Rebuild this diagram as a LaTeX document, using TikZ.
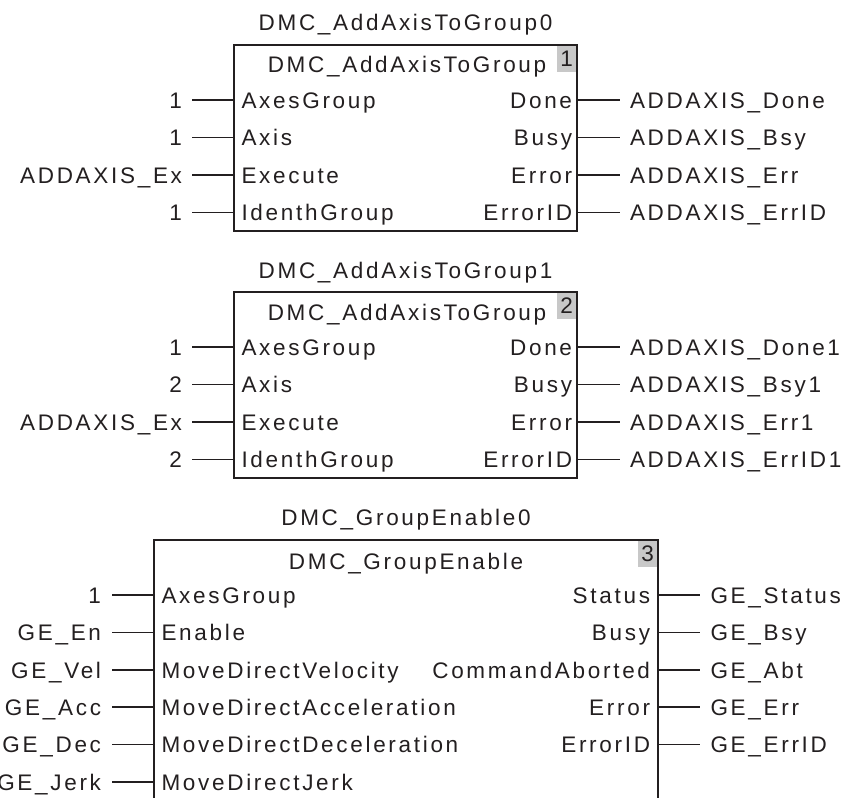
\documentclass[tikz,border=0pt]{standalone}
\usepackage{fontspec}
\setmainfont{Liberation Sans}[LetterSpace=12]
\definecolor{ink}{HTML}{231F20}
\definecolor{badgegray}{HTML}{C8C8C8}
\begin{document}
\begin{tikzpicture}[x=1bp,y=-1bp,
  every node/.style={text=ink, font=\fontsize{22.5bp}{27bp}\selectfont, inner sep=0pt, outer sep=0pt},
  fb/.style={draw=ink, line width=1.5bp, anchor=north west},
  wire/.style={draw=ink, line width=1.5bp},
  badge/.style={fill=badgegray, anchor=north east, minimum width=19bp, minimum height=26bp},
  lbl/.style={anchor=base}]
\clip (0,0) rectangle (854,798);
\fill[white] (0,0) rectangle (854,798);

% ---------- Block 1 ----------
\node[lbl] (t1) at (405.5,31) {DMC\_AddAxisToGroup0};
\node[badge] (k1) at (576.2,45.8) {1};
\node[fb, minimum width=343bp, minimum height=186bp] (B1) at (234,45) {};
\node[lbl] (h1) at (407,73) {DMC\_AddAxisToGroup};
\foreach \i/\yy/\ext/\pin/\opin/\oext in {
  1/100/1/AxesGroup/Done/ADDAXIS\_Done,
  2/137.5/1/Axis/Busy/ADDAXIS\_Bsy,
  3/175/ADDAXIS\_Ex/Execute/Error/ADDAXIS\_Err,
  4/212.5/1/IdenthGroup/ErrorID/ADDAXIS\_ErrID}{
  \node[anchor=base east] (b1x\i) at (182,\yy+8) {\ext};
  \coordinate (b1a\i) at (192,\yy);
  \coordinate (b1b\i) at (234,\yy);
  \draw[wire] (b1a\i) -- (b1b\i);
  \node[anchor=base west] (b1p\i) at (241.5,\yy+8) {\pin};
  \node[anchor=base east] (b1q\i) at (572,\yy+8) {\opin};
  \coordinate (b1c\i) at (577,\yy);
  \coordinate (b1d\i) at (620,\yy);
  \draw[wire] (b1c\i) -- (b1d\i);
  \node[anchor=base west] (b1y\i) at (630,\yy+8) {\oext};
}

% ---------- Block 2 ----------
\node[lbl] (t2) at (405.5,278) {DMC\_AddAxisToGroup1};
\node[badge] (k2) at (576.2,292.8) {2};
\node[fb, minimum width=343bp, minimum height=186bp] (B2) at (234,292) {};
\node[lbl] (h2) at (407,320) {DMC\_AddAxisToGroup};
\foreach \i/\yy/\ext/\pin/\opin/\oext in {
  1/347/1/AxesGroup/Done/ADDAXIS\_Done1,
  2/384.5/2/Axis/Busy/ADDAXIS\_Bsy1,
  3/422/ADDAXIS\_Ex/Execute/Error/ADDAXIS\_Err1,
  4/459.5/2/IdenthGroup/ErrorID/ADDAXIS\_ErrID1}{
  \node[anchor=base east] (b2x\i) at (182,\yy+8) {\ext};
  \coordinate (b2a\i) at (192,\yy);
  \coordinate (b2b\i) at (234,\yy);
  \draw[wire] (b2a\i) -- (b2b\i);
  \node[anchor=base west] (b2p\i) at (241.5,\yy+8) {\pin};
  \node[anchor=base east] (b2q\i) at (572,\yy+8) {\opin};
  \coordinate (b2c\i) at (577,\yy);
  \coordinate (b2d\i) at (620,\yy);
  \draw[wire] (b2c\i) -- (b2d\i);
  \node[anchor=base west] (b2y\i) at (630,\yy+8) {\oext};
}

% ---------- Block 3 ----------
\node[lbl] (t3) at (406,525) {DMC\_GroupEnable0};
\node[badge] (k3) at (657.2,540.8) {3};
\node[fb, minimum width=504bp, minimum height=300bp] (B3) at (154,540) {};
\node[lbl] (h3) at (406,569) {DMC\_GroupEnable};
\foreach \i/\yy/\ext/\pin in {
  1/595/1/AxesGroup,
  2/632.5/GE\_En/Enable,
  3/670/GE\_Vel/MoveDirectVelocity,
  4/707/GE\_Acc/MoveDirectAcceleration,
  5/744.5/GE\_Dec/MoveDirectDeceleration,
  6/782/GE\_Jerk/MoveDirectJerk}{
  \node[anchor=base east] (b3x\i) at (101,\yy+8) {\ext};
  \coordinate (b3a\i) at (112,\yy);
  \coordinate (b3b\i) at (154,\yy);
  \draw[wire] (b3a\i) -- (b3b\i);
  \node[anchor=base west] (b3p\i) at (161.5,\yy+8) {\pin};
}
\foreach \i/\yy/\opin/\oext in {
  1/595/Status/GE\_Status,
  2/632.5/Busy/GE\_Bsy,
  3/670/CommandAborted/GE\_Abt,
  4/707/Error/GE\_Err,
  5/744.5/ErrorID/GE\_ErrID}{
  \node[anchor=base east] (b3q\i) at (650,\yy+8) {\opin};
  \coordinate (b3c\i) at (658,\yy);
  \coordinate (b3d\i) at (700,\yy);
  \draw[wire] (b3c\i) -- (b3d\i);
  \node[anchor=base west] (b3y\i) at (710.5,\yy+8) {\oext};
}
\end{tikzpicture}
\end{document}
